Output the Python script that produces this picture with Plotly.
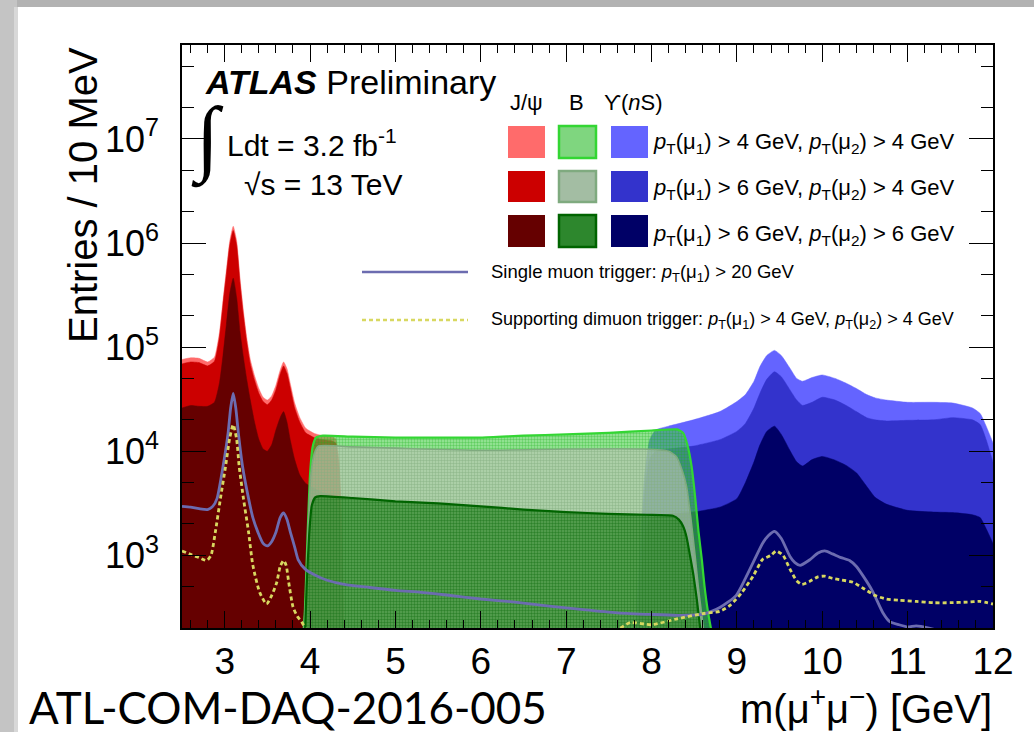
import plotly.graph_objects as go

# ---------------- data: entries / 10 MeV versus m(mu+mu-) [GeV] ----------------
# J/psi trigger window
jpsi_mass = [2.50, 2.60, 2.70, 2.80, 2.88, 2.94, 2.98, 3.02, 3.06, 3.10, 3.14, 3.18,
             3.22, 3.26, 3.30, 3.35, 3.40, 3.45, 3.50, 3.55, 3.60, 3.65, 3.69, 3.73,
             3.77, 3.82, 3.88, 3.95, 4.05, 4.15, 4.25, 4.30, 4.34, 4.37, 4.40]
jpsi_pt44 = [7.6e4, 7.9e4, 7.8e4, 7.2e4, 8.0e4, 1.4e5, 2.8e5, 5.5e5, 1.05e6, 1.45e6, 1.05e6, 4.5e5,
             2.2e5, 1.2e5, 7.6e4, 5.3e4, 4.0e4, 3.3e4, 3.1e4, 3.4e4, 4.3e4, 6.0e4, 7.2e4, 6.2e4,
             4.4e4, 2.9e4, 2.1e4, 1.66e4, 1.48e4, 1.41e4, 1.38e4, 1.32e4, 8.0e3, 2.0e3, 100]
jpsi_pt64 = [6.9e4, 7.2e4, 7.1e4, 6.6e4, 7.3e4, 1.27e5, 2.55e5, 5.0e5, 9.6e5, 1.32e6, 9.6e5, 4.1e5,
             2.0e5, 1.1e5, 6.9e4, 4.8e4, 3.6e4, 3.0e4, 2.8e4, 3.1e4, 3.9e4, 5.5e4, 6.6e4, 5.6e4,
             4.0e4, 2.6e4, 1.9e4, 1.5e4, 1.35e4, 1.29e4, 1.26e4, 1.2e4, 7.1e3, 1.8e3, 100]
jpsi_pt66 = [2.6e4, 2.75e4, 2.7e4, 2.7e4, 2.95e4, 4.6e4, 8.3e4, 1.66e5, 3.3e5, 4.6e5, 3.0e5, 1.4e5,
             7.9e4, 4.8e4, 3.1e4, 1.9e4, 1.3e4, 1.05e4, 1.0e4, 1.15e4, 1.6e4, 2.1e4, 2.4e4, 1.9e4,
             1.26e4, 8.3e3, 5.9e3, 4.9e3, 4.4e3, 4.0e3, 3.8e3, 3.6e3, 2.5e3, 1.0e3, 100]

# B trigger window
b_mass_pt44 = [3.90, 3.94, 3.97, 4.00, 4.03, 4.07, 4.15, 4.50, 5.00, 5.50, 6.00, 6.50, 7.00,
               7.50, 8.00, 8.30, 8.37, 8.42, 8.47, 8.51, 8.55, 8.59, 8.62, 8.66, 8.70, 8.74]
b_pt44 = [100, 300, 1.5e3, 6.0e3, 1.1e4, 1.35e4, 1.41e4, 1.38e4, 1.35e4, 1.35e4, 1.35e4, 1.41e4, 1.45e4,
          1.5e4, 1.58e4, 1.62e4, 1.5e4, 1.15e4, 7.1e3, 3.7e3, 1.7e3, 900, 510, 290, 190, 120]
b_mass_pt64 = [3.91, 3.95, 3.98, 4.01, 4.05, 4.10, 4.50, 5.00, 6.00, 7.00, 7.90, 8.20, 8.29,
               8.36, 8.41, 8.46, 8.51, 8.55, 8.59, 8.63]
b_pt64 = [100, 400, 2.0e3, 6.0e3, 9.5e3, 1.12e4, 1.1e4, 1.07e4, 1.02e4, 1.05e4, 1.05e4, 1.0e4, 8.9e3,
          6.5e3, 4.6e3, 2.3e3, 1.0e3, 480, 260, 130]
b_mass_pt66 = [3.93, 3.96, 3.99, 4.02, 4.06, 4.12, 4.50, 5.00, 5.50, 6.00, 6.50, 7.00, 7.50,
               7.94, 8.25, 8.32, 8.37, 8.41, 8.45, 8.49, 8.53, 8.57, 8.61]
b_pt66 = [100, 500, 1.6e3, 3.0e3, 3.6e3, 3.7e3, 3.55e3, 3.3e3, 3.15e3, 2.95e3, 2.75e3, 2.6e3, 2.5e3,
          2.45e3, 2.4e3, 2.2e3, 1.9e3, 1.5e3, 1.0e3, 650, 380, 200, 110]

# Upsilon(nS) trigger window
ups_mass = [7.80, 7.86, 7.92, 7.98, 8.05, 8.20, 8.49, 8.80, 9.00, 9.10, 9.20, 9.27, 9.35,
            9.44, 9.52, 9.62, 9.70, 9.77, 9.88, 10.00, 10.15, 10.28, 10.40, 10.52, 10.62,
            10.75, 11.00, 11.30, 11.53, 11.76, 11.85, 11.92, 12.00]
ups_pt44 = [100, 1.0e3, 6.0e3, 1.3e4, 1.6e4, 1.74e4, 2.0e4, 2.4e4, 3.0e4, 3.5e4, 4.7e4, 6.5e4, 8.3e4,
            9.3e4, 8.3e4, 6.3e4, 5.0e4, 4.7e4, 5.1e4, 5.4e4, 5.0e4, 4.5e4, 4.0e4, 3.5e4, 3.25e4,
            3.1e4, 2.95e4, 2.95e4, 2.9e4, 2.6e4, 2.3e4, 1.74e4, 1.2e4]
ups_pt64 = [80, 700, 4.0e3, 8.5e3, 1.0e4, 1.05e4, 1.12e4, 1.29e4, 1.55e4, 1.85e4, 2.6e4, 3.6e4, 4.9e4,
            5.8e4, 5.2e4, 3.9e4, 3.1e4, 2.75e4, 2.95e4, 3.3e4, 3.1e4, 2.75e4, 2.4e4, 2.1e4, 2.0e4,
            1.95e4, 1.98e4, 2.0e4, 2.1e4, 2.0e4, 1.8e4, 1.29e4, 7.8e3]
ups_pt66 = [60, 400, 1.5e3, 2.2e3, 2.4e3, 2.5e3, 2.6e3, 2.9e3, 3.5e3, 5.0e3, 7.9e3, 1.15e4, 1.55e4,
            1.74e4, 1.45e4, 1.02e4, 7.9e3, 7.2e3, 8.3e3, 8.9e3, 8.2e3, 7.3e3, 6.2e3, 4.6e3, 3.6e3,
            3.1e3, 2.7e3, 2.6e3, 2.57e3, 2.45e3, 2.3e3, 1.8e3, 1.3e3]

# Single muon trigger, pT(mu1) > 20 GeV
single_mass = [2.50, 2.60, 2.70, 2.80, 2.86, 2.91, 2.98, 3.04, 3.07, 3.10, 3.13, 3.16, 3.21,
               3.28, 3.33, 3.39, 3.45, 3.50, 3.55, 3.60, 3.65, 3.69, 3.73, 3.77, 3.82, 3.86,
               3.94, 4.05, 4.20, 4.40, 4.70, 5.00, 5.30, 5.60, 6.00, 6.40, 6.80, 7.20, 7.60,
               8.00, 8.30, 8.60, 8.80, 8.99, 9.10, 9.19, 9.30, 9.37, 9.44, 9.52, 9.62, 9.68,
               9.74, 9.85, 9.95, 10.03, 10.12, 10.22, 10.32, 10.40, 10.48, 10.59, 10.71, 10.79,
               10.90, 11.00, 11.10, 11.25, 11.40, 11.60, 12.00]
single_muon = [2.95e3, 2.9e3, 2.8e3, 2.75e3, 2.95e3, 3.5e3, 7.1e3, 1.5e4, 2.6e4, 3.6e4, 2.6e4, 1.5e4, 7.1e3,
               3.5e3, 2.3e3, 1.66e3, 1.3e3, 1.23e3, 1.35e3, 1.66e3, 2.3e3, 2.55e3, 2.2e3, 1.66e3, 1.2e3, 910,
               740, 650, 575, 525, 490, 460, 440, 415, 380, 355, 325, 300, 280,
               270, 265, 270, 315, 410, 600, 850, 1.3e3, 1.55e3, 1.7e3, 1.45e3, 980, 850,
               800, 900, 1.05e3, 1.1e3, 1.03e3, 950, 890, 780, 630, 450, 280, 230,
               215, 205, 210, 200, 185, 170, 160]

# Supporting dimuon trigger, pT(mu1) > 4 GeV, pT(mu2) > 4 GeV
dimuon_mass = [2.50, 2.60, 2.70, 2.79, 2.84, 2.89, 2.95, 3.01, 3.06, 3.10, 3.14, 3.17, 3.22,
               3.28, 3.33, 3.41, 3.49, 3.55, 3.61, 3.65, 3.69, 3.72, 3.75, 3.80, 3.85, 3.90,
               3.95, 4.02, 4.50, 5.50, 6.50, 7.20, 7.55, 7.75, 8.00, 8.30, 8.60, 8.80, 8.92,
               9.05, 9.19, 9.30, 9.40, 9.46, 9.54, 9.62, 9.70, 9.76, 9.85, 9.95, 10.03, 10.12,
               10.22, 10.36, 10.50, 10.62, 10.75, 10.90, 11.10, 11.30, 11.50, 11.70, 11.85, 12.00]
dimuon_trig = [1.1e3, 1.02e3, 950, 890, 1.0e3, 1.66e3, 3.5e3, 7.1e3, 1.35e4, 1.8e4, 1.3e4, 7.1e3, 3.5e3,
               1.66e3, 800, 440, 340, 410, 550, 780, 890, 800, 550, 320, 260, 230,
               195, 150, 90, 90, 100, 130, 180, 225, 215, 245, 275, 290, 330,
               430, 630, 910, 1.0e3, 1.1e3, 1.0e3, 740, 570, 525, 560, 620, 630, 600,
               580, 550, 470, 410, 380, 370, 360, 350, 350, 355, 360, 340]

x_tick_vals = [3, 4, 5, 6, 7, 8, 9, 10, 11, 12]
y_tick_vals = [1e3, 1e4, 1e5, 1e6, 1e7]
y_tick_text = ["10<sup>3</sup>", "10<sup>4</sup>", "10<sup>5</sup>", "10<sup>6</sup>", "10<sup>7</sup>"]

# ---------------- styling ----------------
FONT = "Liberation Sans, Arial, Helvetica, sans-serif"
W, H = 1034, 732
PL, PR, PT, PB = 182, 993, 45, 628          # plot-area edges in pixels

def fx(px):
    return (px - PL) / (PR - PL)

def fy(py):
    return (PB - py) / (PB - PT)

RED_L, RED_M, RED_D = "#ff6b6b", "#cc0000", "#650000"
BLUE_L, BLUE_M, BLUE_D = "#6464ff", "#3333cc", "#000066"
SLATE = "#6c6cb0"
YELLOW = "#d8d860"

fig = go.Figure()

def solid_fill(x, y, color, name):
    fig.add_trace(go.Scatter(x=x, y=y, mode="lines", name=name, fill="tozeroy",
                             fillcolor=color, line=dict(color=color, width=0.5, shape="spline", smoothing=0.5),
                             hoverinfo="skip", showlegend=False))

def hatched_fill(x, y, edge, fg, bg, name, lw=2):
    fig.add_trace(go.Scatter(x=x, y=y, mode="lines", name=name, fill="tozeroy",
                             fillpattern=dict(shape=".", fgcolor=fg, bgcolor=bg, size=3, solidity=0.5),
                             line=dict(color=edge, width=lw, shape="spline", smoothing=0.5),
                             hoverinfo="skip", showlegend=False))

solid_fill(jpsi_mass, jpsi_pt44, RED_L, "J/psi 4,4")
solid_fill(jpsi_mass, jpsi_pt64, RED_M, "J/psi 6,4")
solid_fill(jpsi_mass, jpsi_pt66, RED_D, "J/psi 6,6")
solid_fill(ups_mass, ups_pt44, BLUE_L, "Upsilon 4,4")
solid_fill(ups_mass, ups_pt64, BLUE_M, "Upsilon 6,4")
solid_fill(ups_mass, ups_pt66, BLUE_D, "Upsilon 6,6")

# semi-transparent dotted fills for the B window
hatched_fill(b_mass_pt44, b_pt44, "#33d633", "rgba(20,175,20,0.90)", "rgba(80,210,80,0.55)", "B 4,4", 2.2)
hatched_fill(b_mass_pt64, b_pt64, "#7faa7f", "rgba(135,160,130,0.85)", "rgba(195,205,190,0.60)", "B 6,4", 1.6)
hatched_fill(b_mass_pt66, b_pt66, "#006400", "rgba(0,95,0,0.90)", "rgba(55,145,50,0.70)", "B 6,6", 2.2)

fig.add_trace(go.Scatter(x=single_mass, y=single_muon, mode="lines", name="single muon",
                         line=dict(color=SLATE, width=2.8, shape="spline", smoothing=0.6),
                         hoverinfo="skip", showlegend=False))
fig.add_trace(go.Scatter(x=dimuon_mass, y=dimuon_trig, mode="lines", name="supporting dimuon",
                         line=dict(color=YELLOW, width=2.8, dash="4px,3px", shape="spline", smoothing=0.6),
                         hoverinfo="skip", showlegend=False))

axis_common = dict(showline=True, linecolor="black", linewidth=1.5, mirror="ticks",
                   ticks="inside", tickcolor="black", tickwidth=1.3, showgrid=False, zeroline=False)

fig.update_xaxes(range=[2.5, 12], tickvals=x_tick_vals, ticklen=17, ticklabelstandoff=0,
                 tickfont=dict(family=FONT, size=37, color="black"),
                 minor=dict(ticks="inside", ticklen=8, dtick=0.2, tickcolor="black", tickwidth=1.1),
                 **axis_common)
fig.update_yaxes(type="log", range=[2.30103, 7.90309], tickvals=y_tick_vals, ticktext=y_tick_text,
                 ticklen=24, ticklabelstandoff=14,
                 tickfont=dict(family=FONT, size=36, color="black"),
                 minor=dict(ticks="inside", ticklen=12, tickcolor="black", tickwidth=1.1),
                 **axis_common)

annotations = []

def text(px, py, s, size, xanchor="left", family=FONT, color="black", angle=0):
    annotations.append(dict(x=fx(px), y=fy(py), xref="paper", yref="paper", text=s, showarrow=False,
                            xanchor=xanchor, yanchor="middle", textangle=angle, borderpad=0,
                            font=dict(family=family, size=size, color=color)))

text(204, 82, "<b><i>ATLAS</i></b> Preliminary", 34)
text(207, 139, "∫", 84, xanchor="center", family="Liberation Serif, DejaVu Serif, serif")
text(226, 143, "Ldt = 3.2 fb<sup>-1</sup>", 30)
text(243, 185, "√s = 13 TeV", 30)

text(526, 103, "J/ψ", 22, xanchor="center")
text(576, 103, "B", 22, xanchor="center")
text(633, 103, "ϒ(<i>n</i>S)", 22, xanchor="center")
row_text = ["<i>p</i><sub>T</sub>(μ<sub>1</sub>) > 4 GeV, <i>p</i><sub>T</sub>(μ<sub>2</sub>) > 4 GeV",
            "<i>p</i><sub>T</sub>(μ<sub>1</sub>) > 6 GeV, <i>p</i><sub>T</sub>(μ<sub>2</sub>) > 4 GeV",
            "<i>p</i><sub>T</sub>(μ<sub>1</sub>) > 6 GeV, <i>p</i><sub>T</sub>(μ<sub>2</sub>) > 6 GeV"]
row_y = [143, 189, 235]
for s, ry in zip(row_text, row_y):
    text(652, ry, s, 22)
text(490, 273, "Single muon trigger: <i>p</i><sub>T</sub>(μ<sub>1</sub>) > 20 GeV", 18.5)
text(490, 320, "Supporting dimuon trigger: <i>p</i><sub>T</sub>(μ<sub>1</sub>) > 4 GeV, "
               "<i>p</i><sub>T</sub>(μ<sub>2</sub>) > 4 GeV", 18)

text(83, 195, "Entries / 10 MeV", 40, xanchor="center", angle=-90)
text(993, 706, "m(μ<sup>+</sup>μ<sup>−</sup>) [GeV]", 40, xanchor="right")
text(28, 707, "ATL-COM-DAQ-2016-005", 44, family="Lato, Open Sans, sans-serif")

shapes = []

def rect(x0, y0, x1, y1, fill, line_color=None, lw=0):
    shapes.append(dict(type="rect", xref="paper", yref="paper", x0=fx(x0), x1=fx(x1), y0=fy(y0), y1=fy(y1),
                       fillcolor=fill, line=dict(color=line_color or fill, width=lw), layer="above"))

# legend swatches
swatch_rows = [(126, 158), (171, 202), (215, 247)]
red_cols = [RED_L, RED_M, RED_D]
blue_cols = [BLUE_L, BLUE_M, BLUE_D]
green_fill = ["#7fd67f", "#a3bda3", "#2d872d"]
green_edge = ["#33d633", "#7faa7f", "#006400"]
for i, (y0, y1) in enumerate(swatch_rows):
    rect(508, y0, 545, y1, red_cols[i])
    rect(559, y0, 596, y1, green_fill[i], green_edge[i], 2.5)
    rect(611, y0, 648, y1, blue_cols[i])

shapes.append(dict(type="line", xref="paper", yref="paper", x0=fx(362), x1=fx(468), y0=fy(272), y1=fy(272),
                   line=dict(color=SLATE, width=2.5), layer="above"))
shapes.append(dict(type="line", xref="paper", yref="paper", x0=fx(362), x1=fx(468), y0=fy(320), y1=fy(320),
                   line=dict(color=YELLOW, width=2.5, dash="4px,3px"), layer="above"))

# window frame around the page
rect(0, 0, W, 7, "#b2b2b2")
rect(0, 0, 17, H, "#c4c4c4")
rect(14, 7, 18, H, "#d8d8d8")

fig.update_layout(width=W, height=H, margin=dict(l=PL, r=W - PR, t=PT, b=H - PB),
                  paper_bgcolor="white", plot_bgcolor="white",
                  annotations=annotations, shapes=shapes, showlegend=False)

fig.write_html("out.html")
